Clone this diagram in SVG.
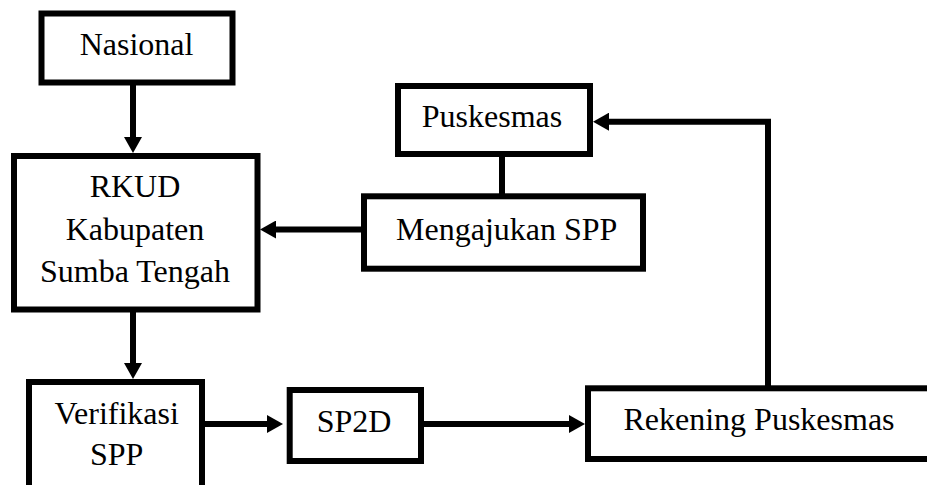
<svg xmlns="http://www.w3.org/2000/svg" width="927" height="485" viewBox="0 0 927 485">
<style>
.box{fill:#fff;stroke:#000;stroke-width:6}
.ln{fill:none;stroke:#000;stroke-width:6}
text{font-family:'Liberation Serif','Times New Roman',serif;font-size:32px;fill:#000;text-anchor:middle}
</style>
<defs>
<marker id="ah" markerUnits="userSpaceOnUse" viewBox="0 0 16 18" markerWidth="16" markerHeight="18" refX="2" refY="9" orient="auto">
<path d="M0,0 L16,9 L0,18 Z" fill="#000"/>
</marker>
</defs>
<rect width="927" height="485" fill="#fff"/>
<g id="connectors">
<line class="ln" x1="133" y1="85" x2="133" y2="139" marker-end="url(#ah)"/>
<line class="ln" x1="362" y1="229.5" x2="274" y2="229.5" marker-end="url(#ah)"/>
<line class="ln" x1="133" y1="311" x2="133" y2="365" marker-end="url(#ah)"/>
<line class="ln" x1="204" y1="424" x2="269" y2="424" marker-end="url(#ah)"/>
<line class="ln" x1="423" y1="424" x2="571" y2="424" marker-end="url(#ah)"/>
<path class="ln" d="M768,386 V121.7 H607" marker-end="url(#ah)"/>
<line class="ln" x1="502" y1="156" x2="502" y2="194"/>
</g>
<g id="nasional">
<rect class="box" x="41.5" y="13.5" width="191" height="69"/>
<text x="136.5" y="55">Nasional</text>
</g>
<g id="rkud">
<rect class="box" x="14" y="156" width="243.5" height="153.5"/>
<text x="135" y="196.7">RKUD</text>
<text x="135" y="240">Kabupaten</text>
<text x="135" y="281.7">Sumba Tengah</text>
</g>
<g id="puskesmas">
<rect class="box" x="398" y="86" width="192" height="68"/>
<text x="492" y="126.7">Puskesmas</text>
</g>
<g id="mengajukan">
<rect class="box" x="364" y="196.3" width="279" height="72.4"/>
<text x="506.7" y="240">Mengajukan SPP</text>
</g>
<g id="verifikasi">
<rect class="box" x="29" y="382" width="173" height="120"/>
<text x="116.7" y="424">Verifikasi</text>
<text x="116.7" y="465">SPP</text>
</g>
<g id="sp2d">
<rect class="box" x="289.7" y="390" width="131.3" height="71"/>
<text x="354" y="431.7">SP2D</text>
</g>
<g id="rekening">
<rect class="box" x="588" y="388.3" width="345" height="70.7"/>
<text x="759" y="430">Rekening Puskesmas</text>
</g>
</svg>
